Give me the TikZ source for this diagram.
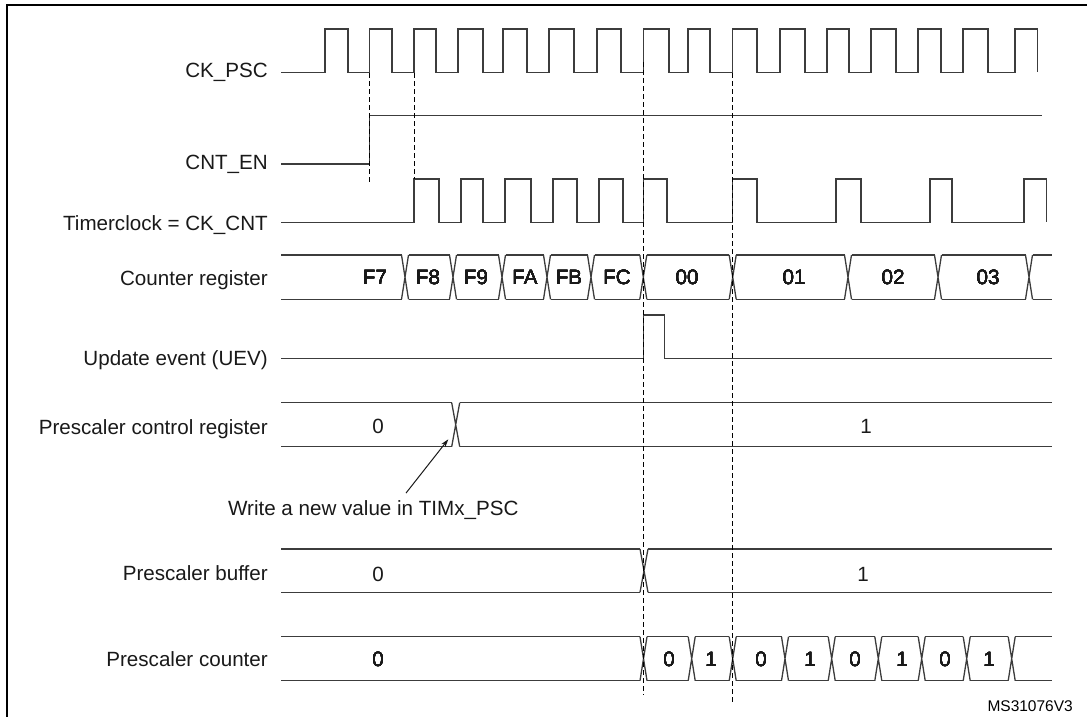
\documentclass[tikz,border=0pt]{standalone}
\usepackage{fontspec}
\setmainfont{Liberation Sans}
\usetikzlibrary{arrows.meta}
\definecolor{wave}{HTML}{3C3C3C}

\tikzset{
  sig/.style={wave,line width=1.3pt},
  guide/.style={black,line width=1pt,dash pattern=on 5pt off 3pt},
  lbl/.style={anchor=base east,inner sep=0pt,text=black!90},
  val/.style={anchor=base,inner sep=0pt,text=black!90}
}

% crossing of a bus line: x, half width, top, bottom
\newcommand{\busx}[4]{\draw[sig] (#1-#2,#3) -- (#1+#2,#4) (#1-#2,#4) -- (#1+#2,#3);}

\begin{document}
\begin{tikzpicture}[x=1pt,y=-1pt,font=\fontsize{20.6}{24}\selectfont]
            \useasboundingbox (0,0) rectangle (1087,717);
            \draw[line width=2pt] (7.3,717) -- (7.3,5) -- (1087,5);

            % signal names
            \node[lbl] (ckpsc) at (268,77.7) {CK\_PSC};
            \node[lbl] (cnten) at (268,169.9) {CNT\_EN};
            \node[lbl] (ckcnt) at (268,230.1) {Timerclock = CK\_CNT};
            \node[lbl] (cntreg) at (268,285.1) {Counter register};
            \node[lbl] (uev) at (268,365.4) {Update event (UEV)};
            \node[lbl] (pscctl) at (268,434.7) {Prescaler control register};
            \node[lbl] (pscbuf) at (268,580.7) {Prescaler buffer};
            \node[lbl] (psccnt) at (268,666.7) {Prescaler counter};

            % clocks
            \draw[sig] (281,72.3) foreach \r/\f in {325/348,369.3/392,414/436,458/483,503/527,549/574,597/621,643.3/669,688/710,732.7/757,780/805,827/849,871/896,918/941,963/988,1015/1037.3}
                { -- (\r,72.3) -- (\r,29) -- (\f,29) -- (\f,72.3) };
            \draw[sig] (281,164) -- (369.3,164) -- (369.3,115.7) -- (1042,115.7);
            \draw[sig] (281,222.3) foreach \r/\f in {414/439,461/483,505/531,553/577,599/623,643.3/667,732.7/757,836/861,930/952,1024/1046.7}
                { -- (\r,222.3) -- (\r,179) -- (\f,179) -- (\f,222.3) };

            % counter register
            \foreach \a/\b in {277.5/405,405/453,453/502,502/547,547/591,591/643.3,643.3/732.7,732.7/848,848/938,938/1029,1029/1055.5}
                \draw[sig] (\a+3.5,255) -- (\b-3.5,255) (\a+3.5,299.3) -- (\b-3.5,299.3);
            \foreach \t in {405,453,502,547,591,643.3,732.7,848,938,1029}
                \busx{\t}{3.5}{255}{299.3}
            \foreach \x/\v [count=\i] in {375/F7,428/F8,476/F9,525/FA,569/FB,617/FC,687/00,794/01,893/02,988/03}
                \node[val] (cr\i) at (\x,284.3) {\v};

            % update event
            \draw[sig] (281,358.3) -- (643.3,358.3) -- (643.3,315) -- (664.3,315) -- (664.3,358.3) -- (1052,358.3);

            % prescaler control register
            \draw[sig] (281,402.7) -- (451.7,402.7) (281,446.7) -- (451.7,446.7)
                (459.7,402.7) -- (1052,402.7) (459.7,446.7) -- (1052,446.7);
            \busx{455.7}{4}{402.7}{446.7}
            \node[val] (pc0) at (378,433.3) {0};
            \node[val] (pc1) at (866,433.3) {1};
            \coordinate (wrtip) at (448.3,439.3);
            \node[val] (write) at (373.3,515.7) {Write a new value in TIMx\_PSC};
            \draw[-{Stealth[length=8pt,width=5pt]},line width=1pt,black!90] ([xshift=32.7pt,yshift=7.5pt]write.north) -- (wrtip);

            % prescaler buffer
            \draw[sig] (281,549) -- (640,549) (281,592.3) -- (640,592.3)
                (648,549) -- (1052,549) (648,592.3) -- (1052,592.3);
            \busx{644}{4}{549}{592.3}
            \node[val] (pb0) at (378,581.7) {0};
            \node[val] (pb1) at (863,581.7) {1};

            % prescaler counter
            \foreach \a/\b in {277.5/643.5,643.5/691.7,691.7/732.7,732.7/785,785/831.7,831.7/878.3,878.3/921.7,921.7/966.7,966.7/1011.7,1011.7/1055.5}
                \draw[sig] (\a+3.5,636.7) -- (\b-3.5,636.7) (\a+3.5,680.7) -- (\b-3.5,680.7);
            \foreach \t in {643.5,691.7,732.7,785,831.7,878.3,921.7,966.7,1011.7}
                \busx{\t}{3.5}{636.7}{680.7}
            \foreach \x/\v [count=\i] in {378/0,669/0,711/1,761/0,810/1,855/0,902/1,945/0,989/1}
                \node[val] (pn\i) at (\x,666.7) {\v};

            % guide lines
            \draw[guide] (369.3,73) -- (369.3,182);
            \draw[guide] (414,73) -- (414,179);
            \draw[guide] (643.3,62) -- (643.3,695);
            \draw[guide] (732.7,73) -- (732.7,703);

            \node[anchor=base east,inner sep=0pt,font=\fontsize{15.5}{18}\selectfont] (msid) at (1073,711.5) {MS31076V3};
        \end{tikzpicture}
\end{document}
